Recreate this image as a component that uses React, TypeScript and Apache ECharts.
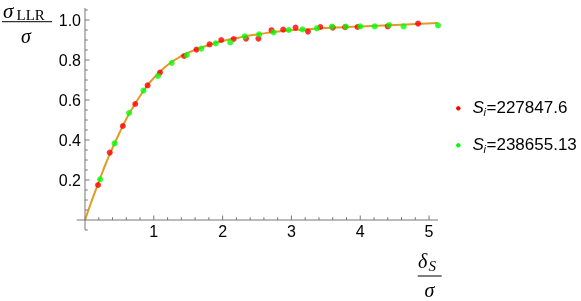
import React, { useEffect, useRef } from "react";
import * as echarts from "echarts";

// ---- data ----
const curveX = [0, 0.1, 0.2, 0.3, 0.4, 0.5, 0.6, 0.7, 0.8, 0.9, 1.0, 1.2, 1.4, 1.6, 1.8, 2.0, 2.25, 2.5, 2.75, 3.0, 3.5, 4.0, 4.5, 5.13];
const curveY = [0, 0.098, 0.19, 0.28, 0.36, 0.435, 0.505, 0.565, 0.62, 0.67, 0.71, 0.775, 0.82, 0.85, 0.875, 0.895, 0.913, 0.928, 0.94, 0.949, 0.96, 0.967, 0.975, 0.985];

const redX = [0.19, 0.36, 0.55, 0.73, 0.91, 1.09, 1.44, 1.62, 1.81, 1.98, 2.16, 2.34, 2.52, 2.71, 2.88, 3.06, 3.24, 3.42, 3.6, 3.78, 3.96, 4.4, 4.84];
const redY = [0.175, 0.337, 0.47, 0.58, 0.673, 0.737, 0.82, 0.852, 0.878, 0.9, 0.905, 0.907, 0.907, 0.949, 0.952, 0.962, 0.942, 0.965, 0.962, 0.964, 0.965, 0.968, 0.982];

const greenX = [0.22, 0.43, 0.64, 0.85, 1.06, 1.26, 1.48, 1.69, 1.9, 2.11, 2.32, 2.53, 2.74, 2.96, 3.16, 3.37, 3.59, 3.79, 4.0, 4.21, 4.42, 4.63, 5.13];
const greenY = [0.203, 0.383, 0.535, 0.647, 0.72, 0.785, 0.825, 0.857, 0.883, 0.888, 0.918, 0.928, 0.938, 0.95, 0.953, 0.958, 0.967, 0.967, 0.968, 0.968, 0.975, 0.968, 0.973];

const seriesNames = ["227847.6", "238655.13"];
const seriesColors = ["#ff0000", "#00ff00"];

const xRange = [-0.12, 5.13];
const yRange = [-0.05, 1.06];
const xMajorTicks = [1, 2, 3, 4, 5];
const xMinorTicks = [0.2, 0.4, 0.6, 0.8, 1.2, 1.4, 1.6, 1.8, 2.2, 2.4, 2.6, 2.8, 3.2, 3.4, 3.6, 3.8, 4.2, 4.4, 4.6, 4.8];
const yMajorTicks = [0.2, 0.4, 0.6, 0.8, 1.0];
const yMinorTicks = [-0.05, 0.05, 0.1, 0.15, 0.25, 0.3, 0.35, 0.45, 0.5, 0.55, 0.65, 0.7, 0.75, 0.85, 0.9, 0.95, 1.05];

const SANS = '"Liberation Sans", Arial, Helvetica, sans-serif';
const SERIF = '"Liberation Serif", "Times New Roman", serif';
const AXIS_COLOR = "#777";

const zip = (xs: number[], ys: number[]) => xs.map((x, i) => [x, ys[i]]);

function txt(text: string, x: number, y: number, size: number, family: string, italic: boolean, align = "left") {
  return {
    type: "text",
    x,
    y,
    style: {
      text,
      fontSize: size,
      fontFamily: family,
      fontStyle: italic ? "italic" : "normal",
      fill: "#000",
      textAlign: align,
      align,
      textVerticalAlign: "middle",
      verticalAlign: "middle",
    },
  };
}

export default function App() {
  const ref = useRef<HTMLDivElement>(null);
  useEffect(() => {
    if (!ref.current) return;
    const chart = echarts.init(ref.current, null, { renderer: "svg" });

    chart.setOption({
      animation: false,
      grid: { left: 85, top: 8, width: 353, height: 212, containLabel: false },
      xAxis: {
        type: "value",
        min: 0,
        max: xRange[1],
        splitLine: { show: false },
        axisLine: { show: false, onZero: false },
        axisTick: { show: false },
        axisLabel: { show: false },
      },
      yAxis: {
        type: "value",
        min: 0,
        max: yRange[1],
        splitLine: { show: false },
        axisLine: { show: false, onZero: false },
        axisTick: { show: false },
        axisLabel: {
          show: true,
          customValues: yMajorTicks,
          margin: 4,
          color: "#000",
          fontSize: 16,
          fontFamily: SANS,
          formatter: (v: number) => v.toFixed(1),
        },
      },
      series: [
        {
          type: "line",
          data: zip(curveX, curveY),
          smooth: true,
          showSymbol: false,
          lineStyle: { color: "#e09c24", width: 2 },
          z: 1,
          clip: true,
        },
        {
          type: "scatter",
          name: seriesNames[0],
          data: zip(redX, redY),
          symbolSize: 6,
          itemStyle: { color: seriesColors[0] },
          z: 2,
          clip: true,
        },
        {
          type: "scatter",
          name: seriesNames[1],
          data: zip(greenX, greenY),
          symbolSize: 6,
          itemStyle: { color: seriesColors[1] },
          z: 3,
          clip: true,
        },
      ],
    });

    // axis lines, ticks and x tick labels, placed through the chart's own scales
    const px = (v: number) => chart.convertToPixel({ xAxisIndex: 0 }, v) as number;
    const py = (v: number) => chart.convertToPixel({ yAxisIndex: 0 }, v) as number;
    const x0 = px(0);
    const y0 = py(0);
    const axisEls: any[] = [];
    const seg = (x1: number, y1: number, x2: number, y2: number) => ({
      type: "line",
      z: 10,
      shape: { x1, y1, x2, y2 },
      style: { stroke: AXIS_COLOR, lineWidth: 1 },
      silent: true,
    });
    axisEls.push(seg(px(xRange[0]), y0, px(xRange[1]), y0));
    axisEls.push(seg(x0, py(yRange[0]), x0, py(yRange[1])));
    xMajorTicks.forEach((v) => axisEls.push(seg(px(v), y0, px(v), y0 - 4.5)));
    xMinorTicks.forEach((v) => axisEls.push(seg(px(v), y0, px(v), y0 - 2.8)));
    yMajorTicks.forEach((v) => axisEls.push(seg(x0, py(v), x0 + 4.5, py(v))));
    yMinorTicks.forEach((v) => axisEls.push(seg(x0, py(v), x0 + 2.8, py(v))));
    xMajorTicks.forEach((v) => axisEls.push(txt(String(v), px(v), y0 + 11.5, 16, SANS, false, "center")));

    const legendEls: any[] = [];
    const legendY = [107.5, 144.5];
    seriesNames.forEach((name, i) => {
      const cy = legendY[i];
      legendEls.push({
        type: "circle",
        shape: { cx: 458.3, cy: cy + 0.8, r: 2.2 },
        style: { fill: seriesColors[i] },
      });
      legendEls.push(txt("S", 472.5, cy, 17, SANS, true));
      legendEls.push(txt("i", 483.6, cy + 4.5, 11, SANS, true));
      legendEls.push(txt("=" + name, 486.5, cy, 17, SANS, false));
    });

    chart.setOption({
      graphic: [
        ...axisEls,
        // y-axis title: sigma_LLR / sigma
        txt("σ", 3, 10.5, 21, SERIF, true),
        txt("LLR", 16.5, 15, 15, SERIF, false),
        { type: "line", shape: { x1: 2, y1: 21.7, x2: 52, y2: 21.7 }, style: { stroke: "#000", lineWidth: 1 } },
        txt("σ", 26, 35.5, 20, SERIF, true, "center"),
        // x-axis title: delta_S / sigma
        txt("δ", 418, 261, 20, SERIF, true),
        txt("S", 428.5, 266, 15, SERIF, true),
        { type: "line", shape: { x1: 417.7, y1: 276, x2: 441.7, y2: 276 }, style: { stroke: "#000", lineWidth: 1 } },
        txt("σ", 429.5, 289.5, 20, SERIF, true, "center"),
        ...legendEls,
      ],
    });
    return () => chart.dispose();
  }, []);
  return <div ref={ref} style={{ position: "fixed", left: 0, top: 0, width: 581, height: 301 }} />;
}
